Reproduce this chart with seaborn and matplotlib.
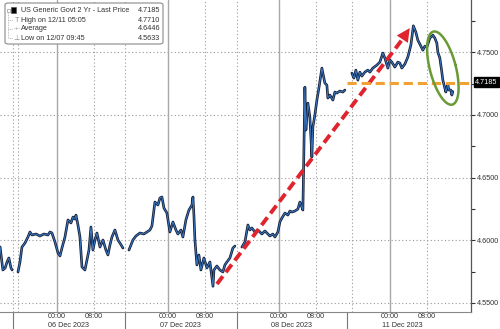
import numpy as np
import pandas as pd
import seaborn as sns
import matplotlib
matplotlib.use("Agg")
import matplotlib.pyplot as plt
from matplotlib.transforms import blended_transform_factory
from matplotlib.patches import FancyBboxPatch, Rectangle
from matplotlib.lines import Line2D

# ---------------- data (hours since 06 Dec 2023 00:00, weekend collapsed) ----------------
s1_hours = [-12.3, -11.7, -11.2, -10.8, -10.4, -9.95, -9.7]
s1_yield = [4.5947, 4.5763, 4.5779, 4.5827, 4.5859, 4.5780, 4.5763]

s2_hours = [-8.43, -8.0, -7.57, -6.92, -6.27, -5.84, -5.41, -4.54, -3.68, -2.81, -1.95, -1.51,
            -1.08, -0.43, 0.22, 0.65, 1.08, 1.73, 2.38, 3.03, 3.46, 3.89, 4.11, 4.54, 4.97,
            5.41, 6.05, 6.49, 6.92, 7.35, 7.78, 8.22, 8.65, 9.30, 9.95, 10.59, 11.03, 11.46,
            11.89, 12.54, 13.19, 13.62, 14.27]
s2_yield = [4.5747, 4.5827, 4.5946, 4.5978, 4.6026, 4.6066, 4.6042, 4.6050, 4.6034, 4.6050,
            4.6042, 4.6066, 4.6058, 4.5986, 4.5899, 4.5875, 4.5938, 4.6026, 4.6162, 4.6138,
            4.6185, 4.6169, 4.6201, 4.6122, 4.6026, 4.5787, 4.5763, 4.5843, 4.5922, 4.6106,
            4.5922, 4.6002, 4.6058, 4.5946, 4.6002, 4.5922, 4.5883, 4.5962, 4.6026, 4.6082,
            4.6002, 4.5978, 4.5938]

s3_hours = [15.57, 16.0, 16.43, 17.08, 17.95, 18.81, 19.46, 20.11, 20.54, 21.19, 21.84, 22.27,
            22.70, 23.14, 23.78, 24.43, 25.08, 25.73, 26.16, 26.81, 27.24, 27.89, 28.54, 29.19,
            29.41, 29.62, 29.84, 30.27, 30.70, 31.14, 31.78, 32.43, 33.08, 33.75, 33.95, 34.59,
            35.24, 35.89, 36.32, 36.76, 37.41, 38.05, 38.49]
s3_yield = [4.5922, 4.5962, 4.6002, 4.6034, 4.6058, 4.6050, 4.6066, 4.6082, 4.6114, 4.6305,
            4.6281, 4.6337, 4.6345, 4.6257, 4.6217, 4.6066, 4.6146, 4.6082, 4.6050, 4.6082,
            4.6026, 4.6162, 4.6241, 4.6281, 4.6345, 4.6201, 4.6002, 4.5803, 4.5883, 4.5763,
            4.5859, 4.5779, 4.5827, 4.5633, 4.5763, 4.5795, 4.5763, 4.5747, 4.5803, 4.5827,
            4.5859, 4.5938, 4.5954]

s4_hours = [40.0, 40.65, 41.30, 41.73, 42.16, 42.81, 43.46, 44.32, 44.97, 45.41, 46.05, 46.70,
            47.14, 47.78, 48.22, 48.65, 49.30, 49.95, 50.38, 50.81, 51.46, 52.11, 52.54, 52.97,
            53.19, 53.41, 53.62, 53.84, 54.27, 54.70, 55.14, 55.35, 55.78, 56.22, 56.65, 57.30,
            57.95, 58.38, 58.59, 59.03, 59.68, 60.11, 60.54, 61.19, 61.84, 62.27]
s4_yield = [4.5946, 4.5986, 4.6122, 4.6082, 4.6098, 4.6066, 4.6082, 4.6050, 4.6074, 4.6058,
            4.6034, 4.6050, 4.6026, 4.6066, 4.6146, 4.6177, 4.6217, 4.6201, 4.6233, 4.6225,
            4.6233, 4.6249, 4.6305, 4.6265, 4.6241, 4.6719, 4.7221, 4.6879, 4.7094, 4.6982,
            4.6664, 4.6903, 4.6998, 4.7118, 4.7213, 4.7373, 4.7253, 4.7237, 4.7134, 4.7158,
            4.7118, 4.7182, 4.7174, 4.7190, 4.7182, 4.7198]

s5_hours = [63.78, 64.22, 64.65, 65.08, 65.51, 65.95, 66.59, 67.24, 67.68, 68.32, 69.19, 69.84,
            70.49, 70.92, 71.57, 72.0, 72.43, 73.08, 73.73, 74.16, 74.59, 75.24, 75.89, 76.54,
            76.97, 77.08, 77.62, 78.05, 78.49, 79.14, 79.57, 80.0, 80.65, 81.30, 81.73, 82.16,
            82.38, 82.81, 83.24, 83.46, 83.89, 84.11, 84.32, 84.54, 84.76, 85.19, 85.41, 85.62]
s5_yield = [4.7333, 4.7293, 4.7357, 4.7277, 4.7341, 4.7309, 4.7341, 4.7357, 4.7341, 4.7373,
            4.7397, 4.7421, 4.7493, 4.7453, 4.7373, 4.7437, 4.7421, 4.7381, 4.7421, 4.7413,
            4.7373, 4.7405, 4.7461, 4.7556, 4.7676, 4.7710, 4.7660, 4.7596, 4.7564, 4.7516,
            4.7548, 4.7540, 4.7612, 4.7636, 4.7612, 4.7572, 4.7500, 4.7453, 4.7341, 4.7277,
            4.7214, 4.7182, 4.7214, 4.7245, 4.7198, 4.7198, 4.7158, 4.7185]

legend_labels = ["US Generic Govt 2 Yr - Last Price", "High on 12/11 05:05", "Average", "Low on 12/07 09:45"]
legend_values = ["4.7185", "4.7710", "4.6446", "4.5633"]
last_price = 4.7185

y_ticks = [4.55, 4.60, 4.65, 4.70, 4.75]
midnight_hours = [0, 24, 48, 72]
morning_hours = [8, 32, 56, 80]
time_tick_labels = ["00:00", "08:00"]
day_labels = ["06 Dec 2023", "07 Dec 2023", "08 Dec 2023", "11 Dec 2023"]
day_label_hours = [2.6, 26.8, 50.8, 74.8]
session_break_hours = [-9.51, 14.70, 38.92, 62.70]
session_start_hours = [-9.51, -8.43, 14.70, 38.92, 63.78]
minor_x_hours = [-8, 4, 16, 28, 40, 52, 64, 76, 88]

# annotation geometry (data units)
red_start = (34.6, 4.5651)
red_base = (74.49, 4.7592)
red_tip = (76.3, 4.7692)
orange_level = 4.7253
orange_from = 62.7
ellipse_center = (83.46, 4.7373)

# ---------------- figure ----------------
sns.set_style("white")
plt.rcParams["font.family"] = ["Liberation Sans", "DejaVu Sans"]
FS = 5.2
TXT = "#333333"

fig = plt.figure(figsize=(5.0, 3.29), dpi=100)
ax = fig.add_axes([0.0, 17 / 329, 471 / 500, 312 / 329])
ax.set_facecolor("white")

frames = []
for i, (h, y) in enumerate([(s1_hours, s1_yield), (s2_hours, s2_yield), (s3_hours, s3_yield),
                             (s4_hours, s4_yield), (s5_hours, s5_yield)]):
    frames.append(pd.DataFrame({"hours": h, "yield": y, "session": i}))
df = pd.concat(frames, ignore_index=True)

XMIN, XMAX = -12.32, 89.55
YMIN, YMAX = 4.5428, 4.7916
ax.set_xlim(XMIN, XMAX)
ax.set_ylim(YMIN, YMAX)

# grid
for yv in y_ticks:
    ax.axhline(yv, color="#9a9a9a", lw=0.8, ls=(0, (1, 2.2)), zorder=1)
for xv in morning_hours + session_start_hours:
    ax.axvline(xv, color="#9a9a9a", lw=0.8, ls=(0, (1, 2.2)), zorder=1)
for xv in midnight_hours:
    ax.axvline(xv, color="#a8a8a8", lw=1.0, zorder=1)

sns.lineplot(data=df, x="hours", y="yield", units="session", estimator=None,
             color="#141f36", lw=1.9, ax=ax, zorder=3, legend=False)
sns.lineplot(data=df, x="hours", y="yield", units="session", estimator=None,
             color="#3b78c4", lw=0.7, ax=ax, zorder=4, legend=False)

# red dashed arrow
ax.plot([red_start[0], red_base[0]], [red_start[1], red_base[1]], color="#e0242d", lw=2.8,
        dashes=(2.5, 1.3), solid_capstyle="butt", dash_capstyle="butt", zorder=5)
ax.annotate("", xy=red_tip, xytext=red_base,
            arrowprops=dict(arrowstyle="-|>,head_length=0.8,head_width=0.4", mutation_scale=12,
                            color="#e0242d", lw=0, shrinkA=0, shrinkB=0), zorder=5)

# orange dashed line (extends past the axis)
ax.plot([orange_from, 95.8], [orange_level, orange_level], color="#f2a134", lw=2.2,
        dashes=(3, 1.6), dash_capstyle="butt", clip_on=False, zorder=6)

# green ellipse drawn in pixel geometry then converted to data units
hx = (XMAX - XMIN) / 471.0
vy = (YMAX - YMIN) / 312.0
t = np.linspace(0, 2 * np.pi, 200)
a, b = 13.0, 37.7
major = np.array([0.252, 0.968])
minor = np.array([0.968, -0.252])
px = a * np.cos(t) * minor[0] + b * np.sin(t) * major[0]
py = a * np.cos(t) * minor[1] + b * np.sin(t) * major[1]
ax.plot(ellipse_center[0] + px * hx, ellipse_center[1] - py * vy, color="#6a9a35", lw=1.8, zorder=6)

# spines
for s in ["left", "top"]:
    ax.spines[s].set_visible(False)
ax.spines["right"].set_color("#555555")
ax.spines["right"].set_linewidth(0.9)
ax.spines["bottom"].set_color("#888888")
ax.spines["bottom"].set_linewidth(0.8)

# y axis on right
ax.yaxis.tick_right()
ax.set_yticks(y_ticks)
ax.set_yticklabels([f"{v:.4f}" for v in y_ticks])
ax.set_yticks([v + 0.025 for v in y_ticks], minor=True)
ax.tick_params(axis="y", which="both", direction="out", length=3, width=0.8, color="#333333",
               labelsize=FS, labelcolor=TXT, pad=1.5, left=False, right=True)
ax.set_ylabel("")

# x axis: tick marks, labels placed as texts
xt = sorted(midnight_hours + morning_hours)
ax.set_xticks(xt)
ax.set_xticklabels([])
ax.set_xticks(minor_x_hours, minor=True)
ax.tick_params(axis="x", which="both", direction="out", length=2.0, width=0.7, color="#555555")
ax.set_xlabel("")

bt = blended_transform_factory(ax.transData, ax.transAxes)
for xv in xt:
    lab = time_tick_labels[0] if xv in midnight_hours else time_tick_labels[1]
    ax.text(xv, -0.0150, lab, transform=bt, ha="center", va="center", fontsize=FS, color=TXT)
for lab, xv in zip(day_labels, day_label_hours):
    ax.text(xv, -0.0425, lab, transform=bt, ha="center", va="center", fontsize=FS, color=TXT)
for xv in session_break_hours:
    ax.add_line(Line2D([xv, xv], [0, -0.06], transform=bt, color="#777777", lw=0.8, clip_on=False))

# last price box
by = blended_transform_factory(ax.transAxes, ax.transData)
ax.text(1.009, 4.7262, f"{last_price:.4f}", transform=by, ha="left", va="center", fontsize=FS,
        color="white", bbox=dict(boxstyle="square,pad=0.18", fc="black", ec="black"), zorder=10)

# legend box
W, H = 500.0, 329.0
fx = lambda p: p / W
fy = lambda p: 1 - p / H
box = FancyBboxPatch((fx(5), fy(44)), fx(158), 41 / H, boxstyle="round,pad=0,rounding_size=0.006",
                     transform=fig.transFigure, fc="white", ec="#8a8a8a", lw=0.8, zorder=20)
fig.add_artist(box)
rows_y = [10, 20, 29, 38]
for lab, val, ry in zip(legend_labels, legend_values, rows_y):
    fig.text(fx(21), fy(ry), lab, ha="left", va="center", fontsize=FS, color=TXT, zorder=21)
    fig.text(fx(160), fy(ry), val, ha="right", va="center", fontsize=FS, color=TXT, zorder=21)
fig.add_artist(Rectangle((fx(11), fy(13)), fx(5), 5.5 / H, transform=fig.transFigure,
                         fc="black", ec="#555555", lw=0.5, zorder=21))
fig.add_artist(Rectangle((fx(6.5), fy(12)), fx(3), 3.5 / H, transform=fig.transFigure,
                         fc="white", ec="#999999", lw=0.5, zorder=21))
fig.add_artist(Line2D([fx(8), fx(8)], [fy(13), fy(38)], transform=fig.transFigure,
                      color="#aaaaaa", lw=0.6, ls=(0, (1, 1)), zorder=21))
for ry in rows_y[1:]:
    fig.add_artist(Line2D([fx(8), fx(13)], [fy(ry), fy(ry)], transform=fig.transFigure,
                          color="#aaaaaa", lw=0.6, ls=(0, (1, 1)), zorder=21))
fig.text(fx(17), fy(20), "T", ha="center", va="center", fontsize=FS, color="#888888", zorder=21)
fig.text(fx(17), fy(29), "-+-", ha="center", va="center", fontsize=FS - 1, color="#888888", zorder=21)
fig.text(fx(17), fy(38), "\u22a5", ha="center", va="center", fontsize=FS, color="#888888", zorder=21)

fig.savefig("out.png", dpi=100, facecolor="white")
